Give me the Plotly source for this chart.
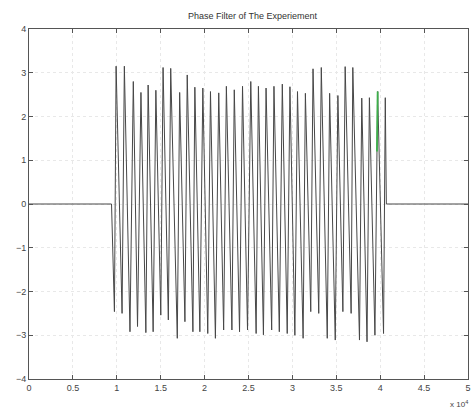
import plotly.graph_objects as go

# Sample axis is in units of 10^4 samples
trough_x = [0.973, 1.060, 1.150, 1.236, 1.331, 1.414, 1.501, 1.587, 1.689, 1.776,
            1.867, 1.946, 2.036, 2.123, 2.217, 2.311, 2.398, 2.489, 2.587, 2.670,
            2.764, 2.851, 2.941, 3.028, 3.122, 3.209, 3.300, 3.397, 3.488, 3.575,
            3.669, 3.764, 3.850, 3.940, 4.038]
trough_y = [-2.46, -2.50, -2.92, -2.80, -2.94, -2.92, -2.54, -2.65, -3.07, -2.69,
            -2.92, -2.92, -2.96, -3.07, -2.88, -2.88, -2.92, -2.88, -2.96, -2.99,
            -2.88, -2.92, -2.96, -3.00, -3.07, -2.46, -2.50, -3.07, -3.11, -2.46,
            -2.50, -3.11, -3.15, -3.00, -2.96]
peak_x = [0.992, 1.086, 1.188, 1.275, 1.357, 1.445, 1.527, 1.614, 1.716, 1.802,
          1.889, 1.980, 2.067, 2.161, 2.248, 2.338, 2.432, 2.526, 2.613, 2.700,
          2.790, 2.885, 2.972, 3.058, 3.148, 3.235, 3.329, 3.424, 3.518, 3.601,
          3.688, 3.790, 3.877, 3.971, 4.058]
peak_y = [3.15, 3.15, 2.80, 2.55, 2.72, 2.60, 3.12, 3.10, 2.55, 2.95,
          2.67, 2.65, 2.57, 2.54, 2.69, 2.61, 2.69, 2.80, 2.69, 2.65,
          2.69, 2.74, 2.68, 2.57, 2.53, 3.09, 3.12, 2.53, 2.48, 3.14,
          3.12, 2.42, 2.43, 2.57, 2.43]

# Quiet stretches before and after the burst
lead_x = [0.0, 0.94]
lead_y = [0.0, 0.0]
tail_x = [4.07, 5.0]
tail_y = [0.0, 0.0]

# Second (green) channel, visible only where it departs from the first
green_x = [3.963, 3.971]
green_y = [1.20, 2.57]

x_ticks = [0, 0.5, 1, 1.5, 2, 2.5, 3, 3.5, 4, 4.5, 5]
x_tick_text = ["0", "0.5", "1", "1.5", "2", "2.5", "3", "3.5", "4", "4.5", "5"]
y_ticks = [-4, -3, -2, -1, 0, 1, 2, 3, 4]

sig_x = list(lead_x)
sig_y = list(lead_y)
for tx, ty, px, py in zip(trough_x, trough_y, peak_x, peak_y):
    sig_x += [tx, px]
    sig_y += [ty, py]
sig_x += tail_x
sig_y += tail_y

fig = go.Figure()
fig.add_trace(go.Scatter(x=sig_x, y=sig_y, mode="lines",
                         line=dict(color="#474747", width=1), showlegend=False))
fig.add_trace(go.Scatter(x=green_x, y=green_y, mode="lines",
                         line=dict(color="#3cb04a", width=1.8), showlegend=False))

axis_common = dict(
    showline=True, linecolor="#555555", linewidth=1, mirror="ticks",
    ticks="inside", ticklen=4, tickcolor="#555555",
    showgrid=True, gridcolor="#e8e8e8", griddash="dot", gridwidth=1,
    zeroline=False, ticklabeloverflow="allow",
    tickfont=dict(family="Liberation Sans, Arial", size=9, color="#444444"),
)

fig.update_layout(
    width=472, height=408,
    margin=dict(l=29, r=1, t=29, b=29),
    paper_bgcolor="white", plot_bgcolor="white",
    title=dict(text="Phase Filter of The Experiement", x=0.535, xanchor="center",
               y=0.962, yanchor="middle",
               font=dict(family="Liberation Sans, Arial", size=9, color="#333333")),
    xaxis=dict(range=[0, 5], tickvals=x_ticks, ticktext=x_tick_text, **axis_common),
    yaxis=dict(range=[-4, 4], tickvals=y_ticks, **axis_common),
    annotations=[dict(text="x 10<sup>4</sup>", xref="paper", yref="paper",
                      x=0.955, y=-0.05, xanchor="left", yanchor="top", showarrow=False,
                      font=dict(family="Liberation Sans, Arial", size=8, color="#444444"))],
)

fig.write_html("out.html")
